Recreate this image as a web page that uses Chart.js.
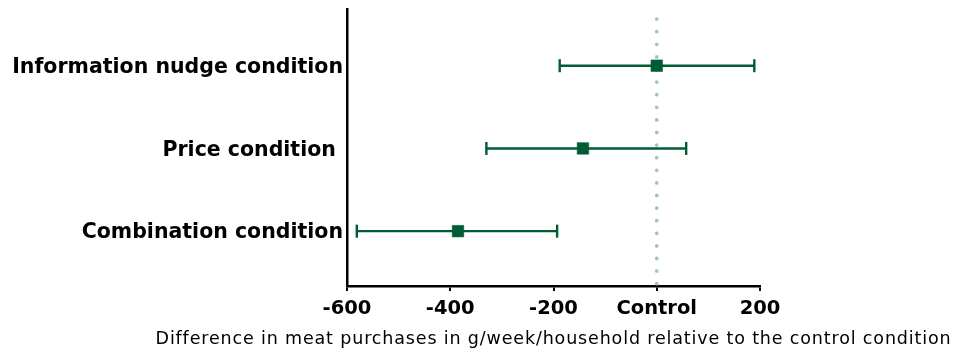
<!DOCTYPE html>
<html>
<head>
<meta charset="utf-8">
<script src="https://cdn.jsdelivr.net/npm/chart.js@4/dist/chart.umd.min.js"></script>
<style>
  html, body { margin: 0; padding: 0; background: #ffffff; }
  #wrap { width: 960px; height: 354px; }
</style>
</head>
<body>
<div id="wrap"><canvas id="chart" width="960" height="354"></canvas></div>
<script>
// Effect on meat purchases per condition (g/week/household vs. control), with 95% CI
const conditions = ['Information nudge condition', 'Price condition ', 'Combination condition'];
const estimates = [0, -143, -385];
const ciLower = [-188, -330, -581];
const ciUpper = [189, 57, -193];
const xTicks = [-600, -400, -200, 0, 200];
const xTickLabels = ['-600', '-400', '-200', 'Control', '200'];
const xTitle = 'Difference in meat purchases in g/week/household relative to the control condition';

const GREEN = '#005c35';
const DOT = '#a2c6b6';
const FONT = "'DejaVu Sans', Verdana, sans-serif";

// Row positions on the vertical scale (1 = top row)
const rows = conditions.map((_, i) => i + 1);
const Y_MIN = 0.313;
const Y_MAX = 3.663;

const datasets = [];

// Square point estimates
datasets.push({
  type: 'scatter',
  data: rows.map((r, i) => ({ x: estimates[i], y: r })),
  pointStyle: 'rect',
  pointRadius: 8.2,
  pointBackgroundColor: GREEN,
  pointBorderColor: GREEN,
  pointBorderWidth: 0.5,
  showLine: false,
  order: 0
});

// Confidence interval whiskers with vertical end caps
rows.forEach((r, i) => {
  datasets.push({
    type: 'line',
    data: [{ x: ciLower[i], y: r }, { x: ciUpper[i], y: r }],
    borderColor: GREEN,
    borderWidth: 2.4,
    pointStyle: 'line',
    rotation: 90,
    pointRadius: 6.5,
    pointBorderColor: GREEN,
    pointBorderWidth: 2.4,
    order: 1
  });
});

// Dotted reference line at the control level
datasets.push({
  type: 'line',
  data: [{ x: 0, y: Y_MAX }, { x: 0, y: Y_MIN }],
  borderColor: DOT,
  borderWidth: 3.8,
  borderDash: [0, 12.6],
  borderDashOffset: 10.3,
  borderCapStyle: 'round',
  pointRadius: 0,
  order: 2
});

// Axis title centred under the plot area
const axisTitle = {
  id: 'axisTitle',
  afterDraw(chart) {
    const { ctx, chartArea } = chart;
    ctx.save();
    ctx.fillStyle = '#000';
    ctx.font = `17.5px ${FONT}`;
    if ('letterSpacing' in ctx) ctx.letterSpacing = '0.85px';
    ctx.textAlign = 'center';
    ctx.textBaseline = 'middle';
    ctx.fillText(xTitle, (chartArea.left + chartArea.right) / 2, 339);
    ctx.restore();
  }
};

new Chart(document.getElementById('chart'), {
  data: { datasets },
  plugins: [axisTitle],
  options: {
    responsive: false,
    animation: false,
    devicePixelRatio: 1,
    layout: { padding: { top: 8, right: 200, left: 0, bottom: 0 } },
    plugins: { legend: { display: false }, tooltip: { enabled: false } },
    scales: {
      x: {
        type: 'linear',
        min: -600,
        max: 200,
        afterBuildTicks: (s) => { s.ticks = xTicks.map(v => ({ value: v })); },
        afterFit: (s) => { s.height = 68; s.paddingLeft = 0; s.paddingRight = 0; },
        border: { display: true, color: '#000', width: 2.5 },
        grid: { display: true, drawOnChartArea: false, drawTicks: true, tickLength: 5, color: '#000', lineWidth: 2 },
        ticks: {
          color: '#000',
          padding: 6,
          maxRotation: 0,
          font: { family: FONT, size: 19.5, weight: 'bold' },
          callback: (v) => xTickLabels[xTicks.indexOf(v)]
        }
      },
      y: {
        type: 'linear',
        reverse: true,
        min: Y_MIN,
        max: Y_MAX,
        afterBuildTicks: (s) => { s.ticks = rows.map(v => ({ value: v })); },
        afterFit: (s) => { s.width = 347; s.paddingTop = 0; s.paddingBottom = 0; },
        border: { display: true, color: '#000', width: 2.5 },
        grid: { display: false, drawTicks: false },
        ticks: {
          color: '#000',
          padding: 4,
          labelOffset: 2,
          font: { family: FONT, size: 20.5, weight: 'bold' },
          callback: (v) => conditions[v - 1]
        }
      }
    }
  }
});
</script>
</body>
</html>
